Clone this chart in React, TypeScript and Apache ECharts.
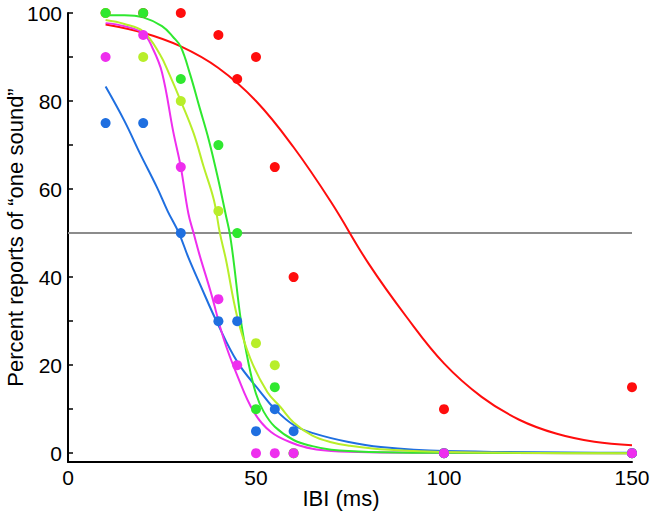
import React, { useEffect, useRef } from "react";
import * as echarts from "echarts";

// Measured IBI values (ms)
const ibi = [10, 20, 30, 40, 45, 50, 55, 60, 100, 150];

// Percent reports of "one sound" per condition (null = no visible point)
const redPts = [100, 100, 100, 95, 85, 90, 65, 40, 10, 15];
const yellowPts = [100, 90, 80, 55, null, 25, 20, 0, 0, 0];
const greenPts = [100, 100, 85, 70, 50, 10, 15, 0, 0, 0];
const bluePts = [75, 75, 50, 30, 30, 5, 10, 5, 0, 0];
const magentaPts = [90, 95, 65, 35, 20, 0, 0, 0, 0, 0];

// Fitted curves
const redFitX = [10, 20, 30, 40, 50, 60, 70, 80, 90, 100, 110, 120, 130, 140, 150];
const redFitY = [97.4, 95.5, 92.4, 87.5, 80, 69.5, 57, 43, 31, 20.4, 12.8, 7.6, 4.4, 2.6, 1.8];

const greenFitX = [10, 15, 20, 25, 28, 30, 32.5, 35, 37.5, 40, 42, 43, 44, 46, 48, 50, 52, 55, 60, 65, 70, 80, 100, 150];
const greenFitY = [99.5, 99.5, 99, 97, 94.5, 92.3, 86, 78.5, 71, 62, 54, 50, 44, 30, 20.5, 13.5, 9.5, 6, 3, 1.6, 0.8, 0.3, 0.1, 0];

const yellowFitX = [10, 15, 20, 24.5, 27, 30, 33.4, 36.1, 38.8, 40.4, 42, 45, 48.5, 53, 56.5, 60, 65, 70, 75, 83, 100, 150];
const yellowFitY = [98.4, 97.5, 95.8, 90.5, 86, 80, 72.7, 65, 57.5, 50, 44, 31, 21.5, 13.9, 10.5, 7, 4, 2.5, 1.7, 0.9, 0.3, 0];

const blueFitX = [10, 15, 19.2, 23.6, 26.5, 29.5, 32, 35.2, 39.6, 45, 51.2, 54.8, 60, 65.4, 74.3, 83.2, 100, 150];
const blueFitY = [83.3, 75.5, 68, 60.5, 55, 50, 44.5, 38.2, 29.8, 20.8, 13.9, 10.2, 6.4, 4.5, 2.6, 1.4, 0.5, 0.1];

const magentaFitX = [10, 15, 20, 22.5, 25, 28, 30, 32, 33.4, 35, 38, 41.4, 45, 49.4, 54, 60, 65, 70, 80, 100, 150];
const magentaFitY = [97.7, 97, 95.4, 92, 86.5, 73, 65, 54.5, 50, 45, 36.5, 26, 17.7, 9.4, 4.8, 2.2, 1, 0.5, 0.2, 0.1, 0];

const refX = [0, 150];
const refY = [50, 50];

const yTicks = [0, 10, 20, 30, 40, 50, 60, 70, 80, 90, 100];
const yLabels = [0, 20, 40, 60, 80, 100];

const COLORS = {
  red: "#ff0d0d",
  green: "#2fe82f",
  yellow: "#b8ee2a",
  blue: "#1f6fe0",
  magenta: "#ee2eee",
  gray: "#8c8c8c",
};

const FONT = 'Helvetica, "Liberation Sans", Arial, sans-serif';

const zip = (xs: number[], ys: (number | null)[]) =>
  xs.map((x, i) => [x, ys[i]]).filter((p) => p[1] !== null);

export default function App() {
  const ref = useRef<HTMLDivElement>(null);

  useEffect(() => {
    if (!ref.current) return;
    document.body.style.margin = "0";
    const chart = echarts.init(ref.current, undefined, { renderer: "svg" });

    const fit = (name: string, xs: number[], ys: number[], color: string) => ({
      name,
      type: "line",
      data: zip(xs, ys),
      smooth: 0.4,
      showSymbol: false,
      symbol: "none",
      lineStyle: { color, width: 2 },
      z: 3,
      silent: true,
    });
    const pts = (name: string, ys: (number | null)[], color: string, z: number) => ({
      name,
      type: "scatter",
      data: zip(ibi, ys),
      symbolSize: 10,
      itemStyle: { color, opacity: 1 },
      z,
      silent: true,
    });

    chart.setOption({
      animation: false,
      backgroundColor: "#ffffff",
      grid: {
        left: 68,
        right: 24,
        top: 13,
        bottom: 49,
        containLabel: false,
        outerBoundsMode: "none",
      },
      xAxis: {
        type: "value",
        min: 0,
        max: 150,
        interval: 50,
        name: "IBI (ms)",
        nameLocation: "middle",
        nameGap: 25,
        nameMoveOverlap: false,
        nameTextStyle: {
          color: "#000",
          fontSize: 22,
          fontFamily: FONT,
          padding: [0, 18, 0, 0],
        },
        axisLine: { onZero: false, lineStyle: { color: "#000", width: 2 } },
        axisTick: { show: false },
        splitLine: { show: false },
        axisLabel: { color: "#000", fontSize: 21, fontFamily: FONT, margin: 5 },
      },
      yAxis: {
        type: "value",
        min: -2,
        max: 100,
        name: "Percent reports of \u201cone sound\u201d",
        nameLocation: "middle",
        nameGap: 42,
        nameRotate: 90,
        nameMoveOverlap: false,
        nameTextStyle: { color: "#000", fontSize: 22, fontFamily: FONT },
        axisLine: { show: true, onZero: false, lineStyle: { color: "#000", width: 2 } },
        axisTick: {
          show: true,
          inside: true,
          length: 5,
          customValues: yTicks,
          lineStyle: { color: "#000", width: 1.5 },
        },
        splitLine: { show: false },
        axisLabel: {
          color: "#000",
          fontSize: 21,
          fontFamily: FONT,
          margin: 6,
          customValues: yLabels,
        },
      },
      series: [
        {
          name: "50%",
          type: "line",
          data: zip(refX, refY),
          symbol: "none",
          lineStyle: { color: COLORS.gray, width: 2 },
          z: 1,
          silent: true,
        },
        pts("red points", redPts, COLORS.red, 4),
        pts("yellow points", yellowPts, COLORS.yellow, 4),
        pts("green points", greenPts, COLORS.green, 4),
        pts("blue points", bluePts, COLORS.blue, 4),
        pts("magenta points", magentaPts, COLORS.magenta, 4),
        fit("red fit", redFitX, redFitY, COLORS.red),
        fit("blue fit", blueFitX, blueFitY, COLORS.blue),
        fit("magenta fit", magentaFitX, magentaFitY, COLORS.magenta),
        fit("green fit", greenFitX, greenFitY, COLORS.green),
        fit("yellow fit", yellowFitX, yellowFitY, COLORS.yellow),
      ],
    });

    return () => chart.dispose();
  }, []);

  return (
    <div
      ref={ref}
      style={{ position: "absolute", left: 0, top: 0, width: 656, height: 511 }}
    />
  );
}
